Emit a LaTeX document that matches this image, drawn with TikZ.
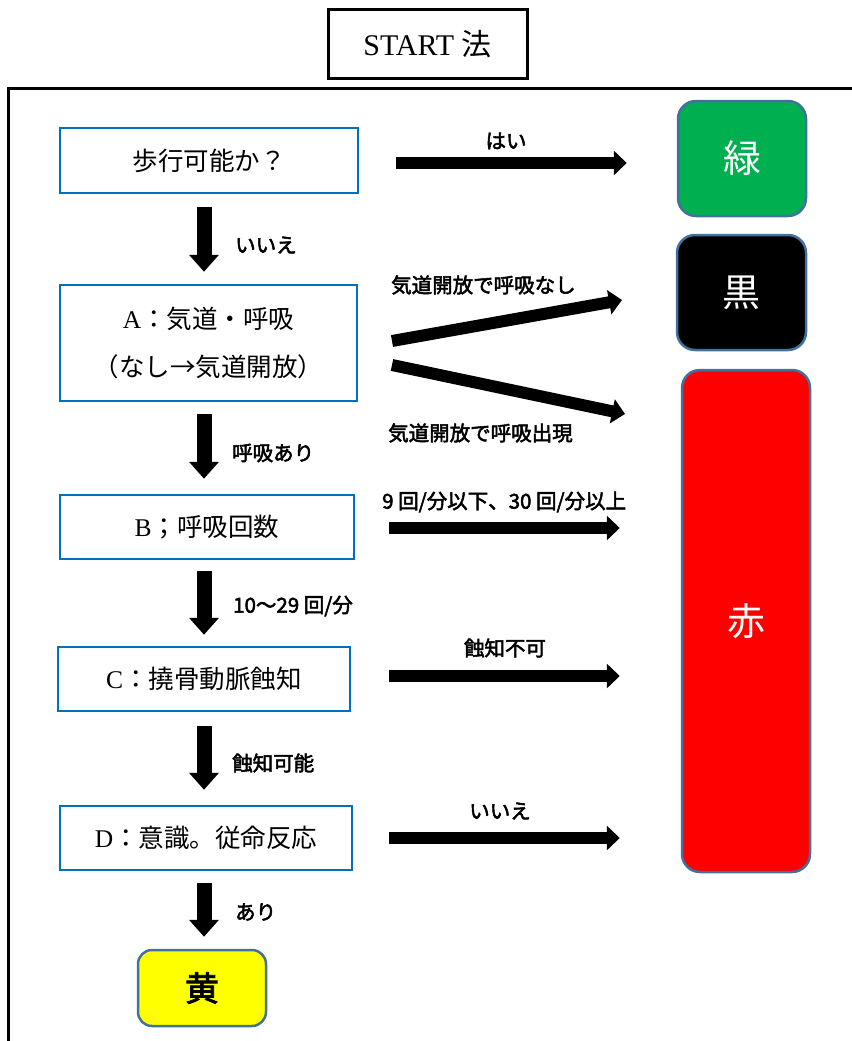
\documentclass[tikz,border=0pt]{standalone}
\usepackage{fontspec}
\setmainfont{Liberation Serif}
\newfontfamily\jp{Noto Sans CJK JP}
\newfontfamily\jpb[FakeBold=2.5]{Noto Sans CJK JP}
\usetikzlibrary{arrows.meta}
\definecolor{boxblue}{HTML}{0070C0}
\definecolor{cborder}{HTML}{41719C}
\definecolor{cgreen}{HTML}{00B050}
\definecolor{cred}{HTML}{FF0000}
\definecolor{cyellow}{HTML}{FFFF00}
\begin{document}
\begin{tikzpicture}[x=1pt,y=-1pt,
  qbox/.style={draw=boxblue, line width=2.5pt, inner sep=0pt, align=center,
    font=\fontsize{25.5}{48}\selectfont},
  cbox/.style={draw=cborder, line width=2.5pt, rounded corners=18pt, inner sep=0pt},
  varrow/.style={line width=15pt, -{Triangle[width=29pt,length=17pt]}},
  harrow/.style={line width=12pt, -{Triangle[width=24pt,length=13pt]}},
  lab/.style={font=\jpb\fontsize{20.5}{22}\selectfont, inner sep=0pt},
  coltext/.style={font=\jp\fontsize{38}{40}\selectfont, text=white}
]
\useasboundingbox (0,0) rectangle (851,1041);
% outer frame
\draw[line width=3pt] (8,1045) -- (8,88) -- (855,88);
% title
\node[draw, line width=3pt, minimum width=199pt, minimum height=68pt, inner sep=0pt,
  font=\fontsize{30}{32}\selectfont] (title) at (427.5,44) {START {\jp 法}};
% question boxes
\node[qbox, minimum width=298pt, minimum height=65pt] (b1) at (209,160.5) {\jp 歩行可能か？};
\node[qbox, minimum width=297pt, minimum height=116pt] (bA) at (208.5,343)
  {A{\jp ：気道・呼吸}\\{\jp （なし→気道開放）}};
\node[qbox, minimum width=294pt, minimum height=64pt] (bB) at (207,527) {B{\jp ；呼吸回数}};
\node[qbox, minimum width=292pt, minimum height=64pt] (bC) at (204,679) {C{\jp ：撓骨動脈蝕知}};
\node[qbox, minimum width=292pt, minimum height=64pt] (bD) at (206,838) {D{\jp ：意識。従命反応}};
% colour boxes
\node[cbox, fill=cyellow, minimum width=128pt, minimum height=76pt, rounded corners=14pt,
  font=\jpb\fontsize{34}{36}\selectfont] (yellow) at (202,988) {黄};
\node[cbox, fill=cgreen, minimum width=128pt, minimum height=115pt, coltext] (green) at (742,158.5) {緑};
\node[cbox, fill=black, minimum width=129pt, minimum height=115pt, coltext] (black) at (741.5,292.5) {黒};
\node[cbox, fill=cred, minimum width=128pt, minimum height=502pt, coltext] (red) at (746,621) {赤};
% vertical arrows
\coordinate (ax) at (204,0);
\draw[varrow, shorten <=13pt, shorten >=12pt] (b1.south -| ax) -- (bA.north -| ax);
\draw[varrow, shorten <=12pt, shorten >=15pt] (bA.south -| ax) -- (bB.north -| ax);
\draw[varrow, shorten <=11pt, shorten >=11pt] (bB.south -| ax) -- (bC.north -| ax);
\draw[varrow, shorten <=14pt, shorten >=15pt] (bC.south -| ax) -- (bD.north -| ax);
\draw[varrow, shorten <=12pt, shorten >=12pt] (bD.south -| ax) -- (yellow.north -| ax);
% vertical labels
\node[lab, anchor=west] (l1) at (235,245) {いいえ};
\node[lab, anchor=west] (l2) at (232,453) {呼吸あり};
\node[lab, anchor=west] (l3) at (233,606) {10～29 回/分};
\node[lab, anchor=west] (l4) at (232,763) {蝕知可能};
\node[lab, anchor=west] (l5) at (235,912) {あり};
% horizontal arrows
\coordinate (h1) at (628,163);
\draw[harrow, shorten <=37pt, shorten >=50pt] (b1.east |- h1) -- (green.west |- h1);
\coordinate (d1s) at (392,341);
\coordinate (d1e) at (622,300);
\coordinate (d2s) at (392,365);
\coordinate (d2e) at (625,414);
\draw[harrow] (d1s) -- (d1e);
\draw[harrow] (d2s) -- (d2e);
\coordinate (h2) at (388,528);
\coordinate (h3) at (388,676);
\coordinate (h4) at (388,838);
\draw[harrow, shorten <=34pt, shorten >=61pt] (bB.east |- h2) -- (red.west |- h2);
\draw[harrow, shorten <=38pt, shorten >=61pt] (bC.east |- h3) -- (red.west |- h3);
\draw[harrow, shorten <=36pt, shorten >=61pt] (bD.east |- h4) -- (red.west |- h4);
% horizontal labels
\node[lab] (r1) at (506,141) {はい};
\node[lab, anchor=west] (r2) at (391,285) {気道開放で呼吸なし};
\node[lab, anchor=west] (r3) at (388,433) {気道開放で呼吸出現};
\node[lab, anchor=west] (r4) at (382,502) {9 回/分以下、30 回/分以上};
\node[lab] (r5) at (505,648) {蝕知不可};
\node[lab] (r6) at (500,811) {いいえ};
\end{tikzpicture}
\end{document}
